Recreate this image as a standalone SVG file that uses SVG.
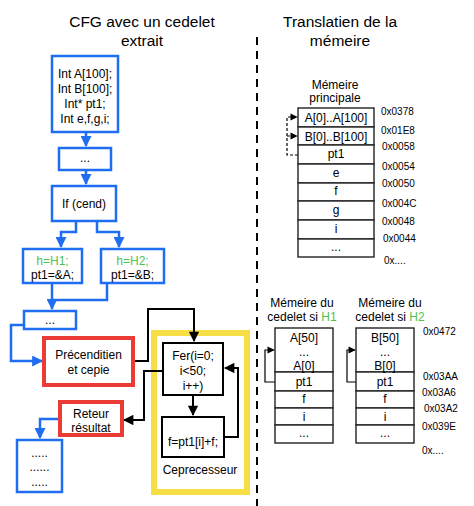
<svg xmlns="http://www.w3.org/2000/svg" width="474" height="506" viewBox="0 0 474 506">
<style>
text{font-family:"Liberation Sans",Arial,sans-serif;fill:#000}
.t{font-size:15.5px;text-anchor:middle}
.b{font-size:12px;text-anchor:middle}
.a{font-size:10px}
.g{fill:#4fc24f}
.bb{fill:#fff;stroke:#1f6ef2;stroke-width:2.5}
.rb{fill:#fff;stroke:#ea3b34;stroke-width:4}
.kb{fill:#fff;stroke:#000;stroke-width:2}
.m{fill:#fff;stroke:#222;stroke-width:1.4}
.bl{fill:none;stroke:#1f6ef2;stroke-width:2.5}
.kl{fill:none;stroke:#000;stroke-width:2}
.tl{fill:none;stroke:#000;stroke-width:1.2}
</style>
<defs>
<marker id="ab" viewBox="0 0 10 10" refX="9" refY="5" markerWidth="5" markerHeight="4.4" orient="auto" markerUnits="strokeWidth"><path d="M0,0L10,5L0,10z" fill="#1f6ef2"/></marker>
<marker id="ak" viewBox="0 0 10 10" refX="9" refY="5" markerWidth="6" markerHeight="5.2" orient="auto" markerUnits="strokeWidth"><path d="M0,0L10,5L0,10z" fill="#000"/></marker>
<marker id="as" viewBox="0 0 10 10" refX="9" refY="5" markerWidth="7" markerHeight="6" orient="auto" markerUnits="strokeWidth"><path d="M0,0L10,5L0,10z" fill="#000"/></marker>
</defs>

<text class="t" x="142" y="27">CFG avec un cedelet</text>
<text class="t" x="142" y="46">extrait</text>
<text class="t" x="340" y="27">Translatien de la</text>
<text class="t" x="340" y="46">mémeire</text>

<line x1="257" y1="37" x2="257" y2="506" stroke="#000" stroke-width="2" stroke-dasharray="8 6"/>

<rect x="154" y="333" width="93" height="159" fill="none" stroke="#f8de45" stroke-width="6"/>

<g id="connectors">
<path class="bl" d="M86,132V146" marker-end="url(#ab)"/>
<path class="bl" d="M86,170V184" marker-end="url(#ab)"/>
<path class="bl" d="M76,221V232H61V247" marker-end="url(#ab)"/>
<path class="bl" d="M97,221V232H119V247" marker-end="url(#ab)"/>
<path class="bl" d="M52,283V309" marker-end="url(#ab)"/>
<path class="bl" d="M107,283V300H52"/>
<path class="bl" d="M24,325H11V361H42" marker-end="url(#ab)"/>
<path class="bl" d="M60,419H40V438" marker-end="url(#ab)"/>
<path class="kl" d="M133,361H148V309H194V341" marker-end="url(#ak)"/>
<path class="kl" d="M193,395V415" marker-end="url(#ak)"/>
<path class="kl" d="M224,437H238V368H225" marker-end="url(#ak)"/>
<path class="kl" d="M163,371H144V420H124" marker-end="url(#ak)"/>
<path class="tl" d="M298,155H287V117H297" stroke-dasharray="3 2" marker-end="url(#as)"/>
<path class="tl" d="M287,136H297" stroke-dasharray="3 2" marker-end="url(#as)"/>
<path class="tl" d="M275,382H265V350H274" marker-end="url(#as)"/>
<path class="tl" d="M356,382H347V350H355" marker-end="url(#as)"/>
</g>

<g id="decl">
<rect class="bb" x="52" y="56" width="66" height="76"/>
<text class="b" x="85" y="78">Int A[100];</text>
<text class="b" x="85" y="93">Int B[100];</text>
<text class="b" x="85" y="108">Int* pt1;</text>
<text class="b" x="85" y="123">Int e,f,g,i;</text>
</g>
<g id="dots1">
<rect class="bb" x="59" y="148" width="52" height="22"/>
<text class="b" x="85" y="162">...</text>
</g>
<g id="ifcend">
<rect class="bb" x="52" y="186" width="64" height="35"/>
<text class="b" x="84" y="208">If (cend)</text>
</g>
<g id="h1">
<rect class="bb" x="23" y="249" width="59" height="34"/>
<text class="b g" x="52.5" y="265">h=H1;</text>
<text class="b" x="52.5" y="279">pt1=&amp;A;</text>
</g>
<g id="h2">
<rect class="bb" x="101" y="249" width="63" height="34"/>
<text class="b g" x="132.5" y="265">h=H2;</text>
<text class="b" x="132.5" y="279">pt1=&amp;B;</text>
</g>
<g id="dots2">
<rect class="bb" x="24" y="311" width="52" height="18"/>
<text class="b" x="50" y="324">...</text>
</g>
<g id="precond">
<rect class="rb" x="44" y="338" width="89" height="47"/>
<text class="b" x="88.5" y="359">Précenditien</text>
<text class="b" x="88.5" y="374">et cepie</text>
</g>
<g id="fer">
<rect class="kb" x="163" y="343" width="60" height="52"/>
<text class="b" x="193" y="360">Fer(i=0;</text>
<text class="b" x="193" y="375">i&lt;50;</text>
<text class="b" x="193" y="390">i++)</text>
</g>
<g id="body">
<rect class="kb" x="162" y="417" width="62" height="40"/>
<text class="b" x="193" y="446">f=pt1[i]+f;</text>
</g>
<text class="b" x="200" y="474">Ceprecesseur</text>
<g id="reteur">
<rect class="rb" x="60" y="402" width="62" height="33"/>
<text class="b" x="91" y="418">Reteur</text>
<text class="b" x="91" y="432">résultat</text>
</g>
<g id="end">
<rect class="bb" x="17" y="440" width="45" height="52"/>
<text class="b" x="39.5" y="457">.....</text>
<text class="b" x="39.5" y="471">......</text>
<text class="b" x="39.5" y="486">.....</text>
</g>

<g id="mainmem">
<text class="b" x="335" y="89">Mémeire</text>
<text class="b" x="335" y="102">principale</text>
<rect class="m" x="298" y="108" width="76" height="19"/>
<rect class="m" x="298" y="127" width="76" height="18"/>
<rect class="m" x="298" y="145" width="76" height="19"/>
<rect class="m" x="298" y="164" width="76" height="19"/>
<rect class="m" x="298" y="183" width="76" height="18"/>
<rect class="m" x="298" y="201" width="76" height="19"/>
<rect class="m" x="298" y="220" width="76" height="19"/>
<rect class="m" x="298" y="239" width="76" height="18"/>
<text class="b" x="336" y="122">A[0]..A[100]</text>
<text class="b" x="336" y="141">B[0]..B[100]</text>
<text class="b" x="336" y="158">pt1</text>
<text class="b" x="336" y="177">e</text>
<text class="b" x="336" y="195">f</text>
<text class="b" x="336" y="214">g</text>
<text class="b" x="336" y="233">i</text>
<text class="b" x="336" y="251">...</text>
<text class="a" x="381" y="115">0x0378</text>
<text class="a" x="381" y="134">0x01E8</text>
<text class="a" x="382" y="150">0x0058</text>
<text class="a" x="382" y="170">0x0054</text>
<text class="a" x="382" y="187">0x0050</text>
<text class="a" x="382" y="207">0x004C</text>
<text class="a" x="382" y="225">0x0048</text>
<text class="a" x="383" y="242">0x0044</text>
<text class="a" x="384" y="264">0x....</text>
</g>

<g id="memH1">
<text class="b" x="302" y="307">Mémeire du</text>
<text class="b" x="302" y="321">cedelet si <tspan class="g">H1</tspan></text>
<rect class="m" x="275" y="328" width="58" height="44"/>
<rect class="m" x="275" y="372" width="58" height="19"/>
<rect class="m" x="275" y="391" width="58" height="17"/>
<rect class="m" x="275" y="408" width="58" height="17"/>
<rect class="m" x="275" y="425" width="58" height="18"/>
<text class="b" x="304" y="342">A[50]</text>
<text class="b" x="304" y="356">...</text>
<text class="b" x="304" y="370">A[0]</text>
<text class="b" x="304" y="386">pt1</text>
<text class="b" x="304" y="403">f</text>
<text class="b" x="304" y="421">i</text>
<text class="b" x="304" y="437">...</text>
</g>

<g id="memH2">
<text class="b" x="390" y="307">Mémeire du</text>
<text class="b" x="390" y="321">cedelet si  <tspan class="g">H2</tspan></text>
<rect class="m" x="356" y="328" width="58" height="44"/>
<rect class="m" x="356" y="372" width="58" height="19"/>
<rect class="m" x="356" y="391" width="58" height="17"/>
<rect class="m" x="356" y="408" width="58" height="17"/>
<rect class="m" x="356" y="425" width="58" height="18"/>
<text class="b" x="385" y="342">B[50]</text>
<text class="b" x="385" y="356">...</text>
<text class="b" x="385" y="370">B[0]</text>
<text class="b" x="385" y="386">pt1</text>
<text class="b" x="385" y="403">f</text>
<text class="b" x="385" y="421">i</text>
<text class="b" x="385" y="437">...</text>
<text class="a" x="423" y="335">0x0472</text>
<text class="a" x="423" y="380">0x03AA</text>
<text class="a" x="422" y="396">0x03A6</text>
<text class="a" x="424" y="412">0x03A2</text>
<text class="a" x="422" y="430">0x039E</text>
<text class="a" x="422" y="454">0x....</text>
</g>
</svg>
